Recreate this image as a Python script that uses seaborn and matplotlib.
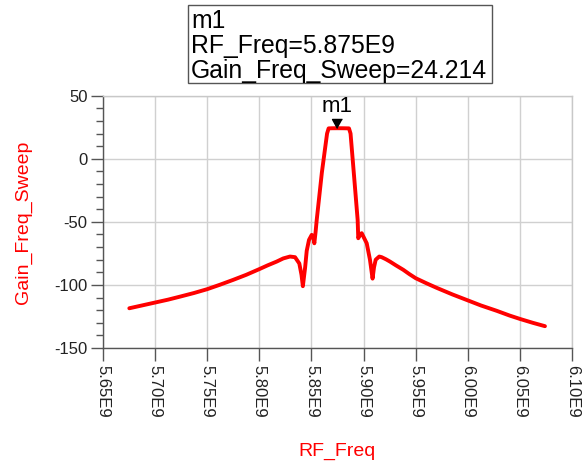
import numpy as np
import pandas as pd
import matplotlib
matplotlib.use("Agg")
import matplotlib.pyplot as plt
from matplotlib.patches import Rectangle
from matplotlib.ticker import FixedLocator, MultipleLocator
import seaborn as sns

# Filter sweep: RF frequency (Hz) vs gain (dB)
rf_freq = [5.6755e9, 5.6875e9, 5.700e9, 5.7125e9, 5.724e9, 5.7375e9, 5.750e9,
           5.7625e9, 5.775e9, 5.7875e9, 5.800e9, 5.808e9, 5.8167e9, 5.823e9,
           5.8295e9, 5.8343e9, 5.8384e9, 5.8405e9, 5.8418e9,
           5.8440e9, 5.8455e9, 5.8477e9, 5.8503e9, 5.8518e9, 5.8528e9,
           5.8540e9, 5.8551e9, 5.8600e9, 5.8650e9, 5.8665e9, 5.8700e9,
           5.8750e9, 5.8800e9, 5.8860e9, 5.8875e9, 5.8910e9, 5.8943e9,
           5.8949e9, 5.8965e9, 5.8982e9, 5.9030e9, 5.9061e9, 5.9086e9,
           5.9100e9, 5.9116e9, 5.9150e9, 5.9173e9, 5.9215e9, 5.9253e9,
           5.931e9, 5.938e9, 5.944e9, 5.950e9, 5.960e9, 5.970e9, 5.985e9,
           6.000e9, 6.0125e9, 6.0275e9, 6.040e9, 6.050e9, 6.062e9, 6.0738e9]
gain_freq_sweep = [-118.5, -116.3, -114, -111.7, -109.3, -106.4, -103.4,
                   -99.8, -96, -92, -87.5, -84.5, -81.5, -79,
                   -77.5, -78, -83, -92, -101,
                   -86, -73, -64.3, -60.3, -62, -67,
                   -58, -48.4, -11, 20, 24.1, 24.2,
                   24.214, 24.2, 24.1, 20, -15, -48.4,
                   -63, -60, -59, -67, -80, -95,
                   -86, -80, -77.5, -78, -79.7, -81.5,
                   -84.5, -88, -91.5, -94.7, -98.6, -102.3, -107.5,
                   -112.3, -116.3, -120.5, -124.3, -127, -130, -132.7]

# Marker m1
m1_freq = 5.875e9
m1_gain = 24.214

x_ticks = [5.65e9, 5.70e9, 5.75e9, 5.80e9, 5.85e9, 5.90e9, 5.95e9, 6.00e9, 6.05e9, 6.10e9]
x_tick_labels = ["5.65E9", "5.70E9", "5.75E9", "5.80E9", "5.85E9",
                 "5.90E9", "5.95E9", "6.00E9", "6.05E9", "6.10E9"]
y_ticks = [-150, -100, -50, 0, 50]

sns.set_style("white")
plt.rcParams["font.family"] = ["Liberation Sans", "DejaVu Sans"]

W, H = 582, 461
fig = plt.figure(figsize=(W / 100, H / 100), dpi=100)
ax = fig.add_axes([102.7 / W, 1 - 348 / H, (572.3 - 102.7) / W, (348 - 95.7) / H])

df = pd.DataFrame({"RF_Freq": rf_freq, "Gain_Freq_Sweep": gain_freq_sweep})
sns.lineplot(data=df, x="RF_Freq", y="Gain_Freq_Sweep", ax=ax, color="#ff0000",
             linewidth=2.8, sort=False, estimator=None, zorder=3)

ax.set_xlim(5.65e9, 6.10e9)
ax.set_ylim(-150, 50)
ax.xaxis.set_major_locator(FixedLocator(x_ticks))
ax.set_xticklabels(x_tick_labels, rotation=270, fontsize=12, color="#222222")
ax.yaxis.set_major_locator(FixedLocator(y_ticks))
ax.yaxis.set_minor_locator(MultipleLocator(10))
ax.set_yticklabels([str(v) for v in y_ticks], fontsize=12, color="#222222")

ax.grid(True, which="major", color="#d0d0d0", linewidth=1.0, zorder=0)
ax.tick_params(axis="x", which="major", direction="out", length=9, width=1,
               color="#555555", pad=3, bottom=True)
ax.tick_params(axis="y", which="major", direction="out", length=9, width=1,
               color="#555555", pad=2, left=True)
ax.tick_params(axis="y", which="minor", direction="out", length=5, width=1,
               color="#555555", left=True)

for side in ("left", "bottom"):
    ax.spines[side].set_color("#555555")
    ax.spines[side].set_linewidth(1.0)
for side in ("top", "right"):
    ax.spines[side].set_color("#c8c8c8")
    ax.spines[side].set_linewidth(1.0)

ax.set_xlabel("RF_Freq", color="#ff0000", fontsize=14, labelpad=18)
ax.set_ylabel("Gain_Freq_Sweep", color="#ff0000", fontsize=14, labelpad=16)

# Marker triangle with its tip on the curve
tri = [(0, 0), (-0.55, 1), (0.55, 1)]
ax.plot([m1_freq], [m1_gain], marker=tri, markersize=13, color="black",
        linestyle="none", zorder=4, clip_on=False)
ax.annotate("m1", xy=(m1_freq, m1_gain), xytext=(0, 12), textcoords="offset points",
            ha="center", va="baseline", fontsize=16, color="black")

# Marker readout box
fig.patches.append(Rectangle((188 / W, 1 - 83 / H), (492 - 188) / W, (83 - 5) / H,
                             transform=fig.transFigure, fill=False,
                             edgecolor="#555555", linewidth=1.0))
readout = ["m1", f"RF_Freq={m1_freq / 1e9:.3f}E9", f"Gain_Freq_Sweep={m1_gain:.3f}"]
for line, base in zip(readout, [27.7, 53, 78]):
    fig.text(191 / W, 1 - base / H, line, ha="left", va="baseline",
             fontsize=17.8, color="black")

fig.savefig("out.png", dpi=100)
